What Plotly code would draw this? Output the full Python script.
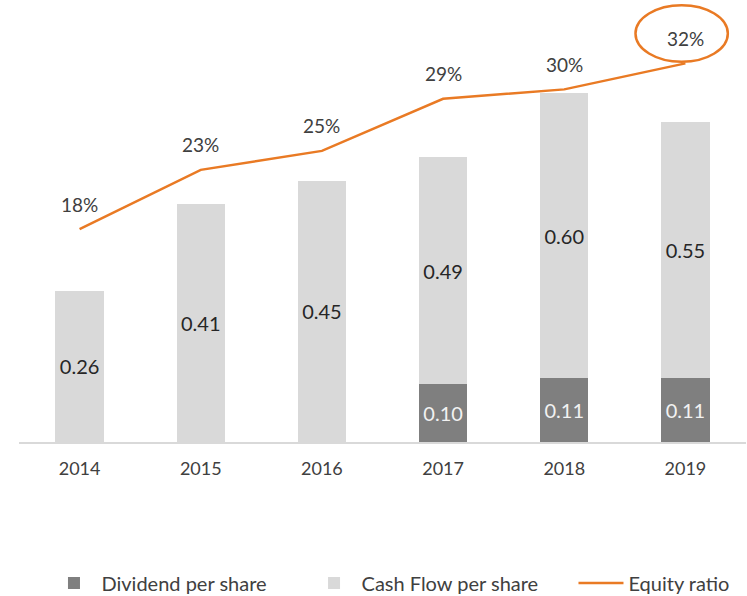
import plotly.graph_objects as go

years = ["2014", "2015", "2016", "2017", "2018", "2019"]
cash_flow = [0.26, 0.41, 0.45, 0.49, 0.60, 0.55]
dividend = [None, None, None, 0.10, 0.11, 0.11]
equity_ratio = [18.0, 23.0, 24.6, 29.0, 29.8, 32.0]
equity_labels = ["18%", "23%", "25%", "29%", "30%", "32%"]

FONT = "Lato"
TXT = "#404040"
ORANGE = "#E97A24"

div0 = [d if d is not None else 0 for d in dividend]
cf_rest = [c - d for c, d in zip(cash_flow, div0)]

fig = go.Figure()
fig.add_bar(
    x=years, y=dividend, name="Dividend per share", legend="legend",
    marker=dict(color="#7F7F7F", line=dict(width=0)),
    text=[f"{d:.2f}" if d is not None else "" for d in dividend],
    textposition="inside", insidetextanchor="middle", textangle=0,
    textfont=dict(color="#F2F2F2", size=20, family=FONT),
)
fig.add_bar(
    x=years, y=cf_rest, name="Cash Flow per share", legend="legend2",
    marker=dict(color="#D9D9D9", line=dict(width=0)),
    text=[f"{c:.2f}" for c in cash_flow],
    textposition="inside", insidetextanchor="middle", textangle=0,
    textfont=dict(color="#262626", size=20, family=FONT),
)
fig.add_scatter(
    x=years, y=equity_ratio, yaxis="y2", mode="lines", name="Equity ratio",
    legend="legend3", line=dict(color=ORANGE, width=2.5),
)
for i, (v, lab) in enumerate(zip(equity_ratio, equity_labels)):
    fig.add_annotation(
        x=i, y=v, xref="x", yref="y2", text=lab, showarrow=False,
        yshift=25, font=dict(family=FONT, size=19, color=TXT),
    )

fig.add_shape(
    type="circle", xref="paper", yref="paper",
    x0=0.848, x1=0.975, y0=0.866, y1=0.995,
    line=dict(color=ORANGE, width=2.5),
)

leg_common = dict(orientation="h", xanchor="left", y=-0.321, yanchor="middle",
                  font=dict(size=20, color=TXT), itemwidth=45,
                  bgcolor="rgba(0,0,0,0)")

fig.update_layout(
    width=747, height=596,
    margin=dict(l=19, r=1, t=3, b=154, autoexpand=False),
    barmode="stack", bargap=0.6,
    plot_bgcolor="white", paper_bgcolor="white",
    font=dict(family=FONT, size=18, color=TXT),
    xaxis=dict(type="category", range=[-0.5, 5.5], showline=True,
               linecolor="#D9D9D9", linewidth=2,
               ticks="", showgrid=False, tickfont=dict(size=18, color=TXT),
               ticklabelstandoff=9),
    yaxis=dict(range=[0, 0.7556], visible=False),
    yaxis2=dict(range=[0, 37.1], overlaying="y", visible=False),
    legend=dict(x=0.0378, **leg_common),
    legend2=dict(x=0.3955, **leg_common),
    legend3=dict(x=0.7627, **leg_common),
    showlegend=True,
)

fig.write_html("out.html", config={"displayModeBar": False},
               post_script="document.body.style.margin='0';")
